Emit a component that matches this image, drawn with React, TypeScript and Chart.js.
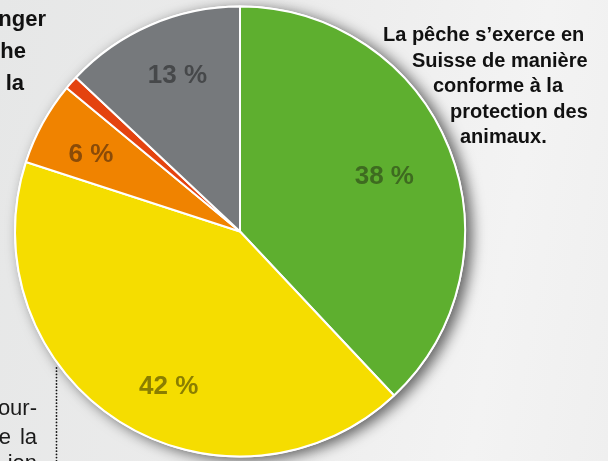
import { useEffect, useRef } from "react";
import { Chart, registerables } from "chart.js";

Chart.register(...registerables);

// ---- data ----
const categories = [
  "Tout à fait d’accord",
  "Plutôt d’accord",
  "Plutôt pas d’accord",
  "Pas du tout d’accord",
  "Ne sait pas",
];
const values = [38, 42, 6, 1, 13];
const valueLabels = ["38 %", "42 %", "6 %", "", "13 %"];
const calloutLines = [
  "La pêche s’exerce en",
  "Suisse de manière",
  "conforme à la",
  "protection des",
  "animaux.",
];
const topLeftLines = ["nger", "he", "la"];
const bottomLeftLines = ["our-", "la", "ion"];

// ---- styles / layout ----
const sliceColors = ["#5eaf2f", "#f5dd00", "#f08300", "#e4430f", "#76797c"];
const labelColors = ["#3e6b20", "#8a7e00", "#8a4b08", "#000", "#46484a"];
const labelRadiusFrac = [0.69, 0.75, 0.75, 0, 0.756];
const labelAngleShiftDeg = [0, -7.4, -0.8, 0, 1.8];
const calloutX = [383, 412, 433, 450, 460];
const calloutBaseline = [41, 66.5, 92, 117.5, 143];
const FONT = '"Liberation Sans", Arial, sans-serif';

const decorPlugin = {
  id: "decor",
  beforeDatasetsDraw(chart: any) {
    const meta = chart.getDatasetMeta(0);
    const arc = meta.data[0];
    if (!arc) return;
    const { x, y, outerRadius } = arc.getProps(["x", "y", "outerRadius"], true);
    const ctx = chart.ctx;
    ctx.save();
    ctx.shadowColor = "rgba(0,0,0,0.6)";
    ctx.shadowBlur = 14;
    ctx.shadowOffsetX = 6;
    ctx.shadowOffsetY = 3;
    ctx.beginPath();
    ctx.arc(x, y, outerRadius + 1, 0, Math.PI * 2);
    ctx.fillStyle = "#ffffff";
    ctx.fill();
    ctx.restore();
  },
  afterDatasetsDraw(chart: any) {
    const ctx = chart.ctx;
    const meta = chart.getDatasetMeta(0);
    ctx.save();
    ctx.font = `bold 26px ${FONT}`;
    ctx.textAlign = "center";
    ctx.textBaseline = "alphabetic";
    meta.data.forEach((el: any, i: number) => {
      const label = valueLabels[i];
      if (!label) return;
      const p = el.getProps(["x", "y", "startAngle", "endAngle", "outerRadius"], true);
      const mid = (p.startAngle + p.endAngle) / 2 + (labelAngleShiftDeg[i] * Math.PI) / 180;
      const r = p.outerRadius * labelRadiusFrac[i];
      const lx = p.x + Math.cos(mid) * r;
      const ly = p.y + Math.sin(mid) * r;
      ctx.fillStyle = labelColors[i];
      ctx.fillText(label, lx, ly + 9.3);
    });

    // callout on the right
    ctx.fillStyle = "#111111";
    ctx.font = `bold 20px ${FONT}`;
    ctx.textAlign = "left";
    calloutLines.forEach((t, i) => ctx.fillText(t, calloutX[i], calloutBaseline[i]));

    // cut-off text top left
    ctx.font = `bold 22px ${FONT}`;
    ctx.textAlign = "right";
    const tlEnd = [46, 26, 24];
    const tlBase = [26, 58, 90];
    topLeftLines.forEach((t, i) => ctx.fillText(t, tlEnd[i], tlBase[i]));

    // cut-off text bottom left
    ctx.font = `22px ${FONT}`;
    ctx.fillStyle = "#1a1a1a";
    ctx.fillText(bottomLeftLines[0], 37, 415);
    ctx.fillText("e", 11, 444);
    ctx.fillText(bottomLeftLines[1], 37, 444);
    ctx.fillText(bottomLeftLines[2], 37, 470);

    // dotted separator
    ctx.fillStyle = "#111111";
    for (let yy = 368; yy < 461; yy += 3.2) {
      ctx.beginPath();
      ctx.arc(56.5, yy, 0.9, 0, Math.PI * 2);
      ctx.fill();
    }
    ctx.restore();
  },
};

export default function App() {
  const ref = useRef<HTMLCanvasElement>(null);
  useEffect(() => {
    document.body.style.margin = "0";
    if (!ref.current) return;
    const chart = new Chart(ref.current, {
      type: "pie",
      data: {
        labels: categories,
        datasets: [
          {
            data: values,
            backgroundColor: sliceColors,
            borderColor: "#ffffff",
            borderWidth: 2,
          },
        ],
      },
      options: {
        animation: false,
        responsive: false,
        radius: 225,
        layout: { padding: { left: 0, right: 128, top: 2, bottom: 0 } },
        plugins: {
          legend: { display: false },
          tooltip: { enabled: false },
        },
      } as any,
      plugins: [decorPlugin],
    });
    return () => chart.destroy();
  }, []);
  return (
    <div
      style={{
        width: 608,
        height: 461,
        overflow: "hidden",
        background:
          "linear-gradient(100deg, #e6e7e7 0%, #ececec 45%, #f3f3f3 80%, #efefef 100%)",
      }}
    >
      <canvas ref={ref} width={608} height={461} style={{ display: "block", width: 608, height: 461 }} />
    </div>
  );
}
